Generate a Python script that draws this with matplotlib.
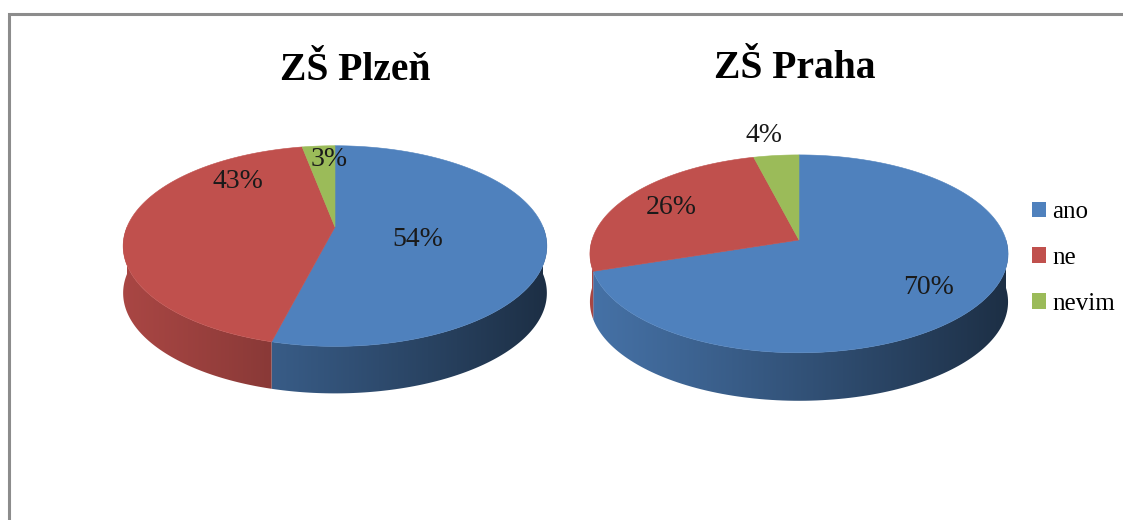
import numpy as np
import matplotlib
matplotlib.use("Agg")
import matplotlib.pyplot as plt
from matplotlib.patches import Polygon, Patch

# ---- data ----
categories = ["ano", "ne", "nevim"]
plzen_values = [54, 43, 3]
praha_values = [70, 26, 4]
titles = ["ZŠ Plzeň", "ZŠ Praha"]
colors = ["#4F81BD", "#C0504D", "#9BBB59"]

# ---- layout (pixel units) ----
W, H = 1123, 520
SERIF = "Liberation Serif"
pies = [
    dict(values=plzen_values, title=titles[0], cx=335, cy=227, rx=208, ry=96.7,
         k=0.19, depth=47, title_xy=(355, 70),
         label_off=[(83, 13), (-97, -46), (-6, -68)]),
    dict(values=praha_values, title=titles[1], cx=799, cy=240, rx=207, ry=97,
         k=0.14, depth=48, title_xy=(795, 68),
         label_off=[(130, 47), (-128, -32), (-35, -104)]),
]

fig = plt.figure(figsize=(W / 100, H / 100), dpi=100)
fig.patch.set_facecolor("white")
ax = fig.add_axes([0, 0, 1, 1])
ax.set_xlim(0, W)
ax.set_ylim(H, 0)
ax.axis("off")


def proj(p, t, r=1.0):
    u = r * np.cos(t)
    v = r * np.sin(t)
    w = 1 + p["k"] * v
    return p["cx"] + p["rx"] * u / w, p["cy"] - p["ry"] * v / w


def shade(s):
    return 0.88 - 0.52 * np.clip(s, 0, 1) ** 1.1


for p in pies:
    vals = np.asarray(p["values"], dtype=float)
    fr = vals / vals.sum()
    cum = np.concatenate([[0], np.cumsum(fr)])
    starts = 90 - 360 * cum[:-1]   # degrees, clockwise from 12 o'clock
    ends = 90 - 360 * cum[1:]

    halfw = p["rx"] / np.sqrt(1 - p["k"] ** 2)
    x0, x1 = p["cx"] - halfw - 2, p["cx"] + halfw + 2
    y0, y1 = p["cy"] - p["ry"], p["cy"] + 1.4 * p["ry"] + p["depth"]
    xs = np.linspace(x0, x1, 400)
    s = (xs - x0) / (x1 - x0)
    f = shade(s)

    # sides (front half only)
    for a0, a1, c in zip(starts, ends, colors):
        lo, hi = max(a1, -180.0), min(a0, 0.0)
        if lo >= hi:
            continue
        t = np.radians(np.linspace(lo, hi, 120))
        tx, ty = proj(p, t)
        pts = np.column_stack([np.concatenate([tx, tx[::-1]]),
                               np.concatenate([ty, ty[::-1] + p["depth"]])])
        poly = Polygon(pts, closed=True, facecolor="none", edgecolor="none",
                       transform=ax.transData)
        ax.add_patch(poly)
        base = np.array(matplotlib.colors.to_rgb(c))
        img = np.clip(f[None, :, None] * base[None, None, :], 0, 1)
        img = np.repeat(img, 2, axis=0)
        im = ax.imshow(img, extent=(x0, x1, y1, y0), aspect="auto",
                       interpolation="bilinear", zorder=1)
        im.set_clip_path(poly)

    # tops
    for a0, a1, c in zip(starts, ends, colors):
        t = np.radians(np.linspace(a0, a1, 150))
        tx, ty = proj(p, t)
        pts = np.column_stack([np.concatenate([[p["cx"]], tx]),
                               np.concatenate([[p["cy"]], ty])])
        ax.add_patch(Polygon(pts, closed=True, facecolor=c, edgecolor=c,
                             linewidth=0.4, zorder=2))

    # labels
    for v, (dx, dy) in zip(p["values"], p["label_off"]):
        ax.text(p["cx"] + dx, p["cy"] + dy, f"{v}%", ha="center", va="center",
                fontsize=20, family=SERIF, color="#1a1a1a", zorder=3)

    ax.text(p["title_xy"][0], p["title_xy"][1], p["title"], ha="center",
            va="center", fontsize=28.5, fontweight="bold", family=SERIF,
            color="black", zorder=3)

ax.set_xlim(0, W)
ax.set_ylim(H, 0)

# legend
handles = [Patch(facecolor=c, edgecolor="none", label=l)
           for c, l in zip(colors, categories)]
ax.legend(handles=handles, loc="center left",
          bbox_to_anchor=(1032 / W, 1 - 258 / H), frameon=False,
          prop={"family": SERIF, "size": 18}, handlelength=0.55,
          handleheight=0.6, handletextpad=0.25, labelspacing=0.95,
          borderaxespad=0, borderpad=0)

# chart-area border
ax.plot([9, 9, W + 5], [H + 5, 14, 14], color="#8C8C8C", lw=2.2,
        solid_joinstyle="miter", clip_on=False, zorder=5)

fig.savefig("out.png", dpi=100, facecolor="white")
